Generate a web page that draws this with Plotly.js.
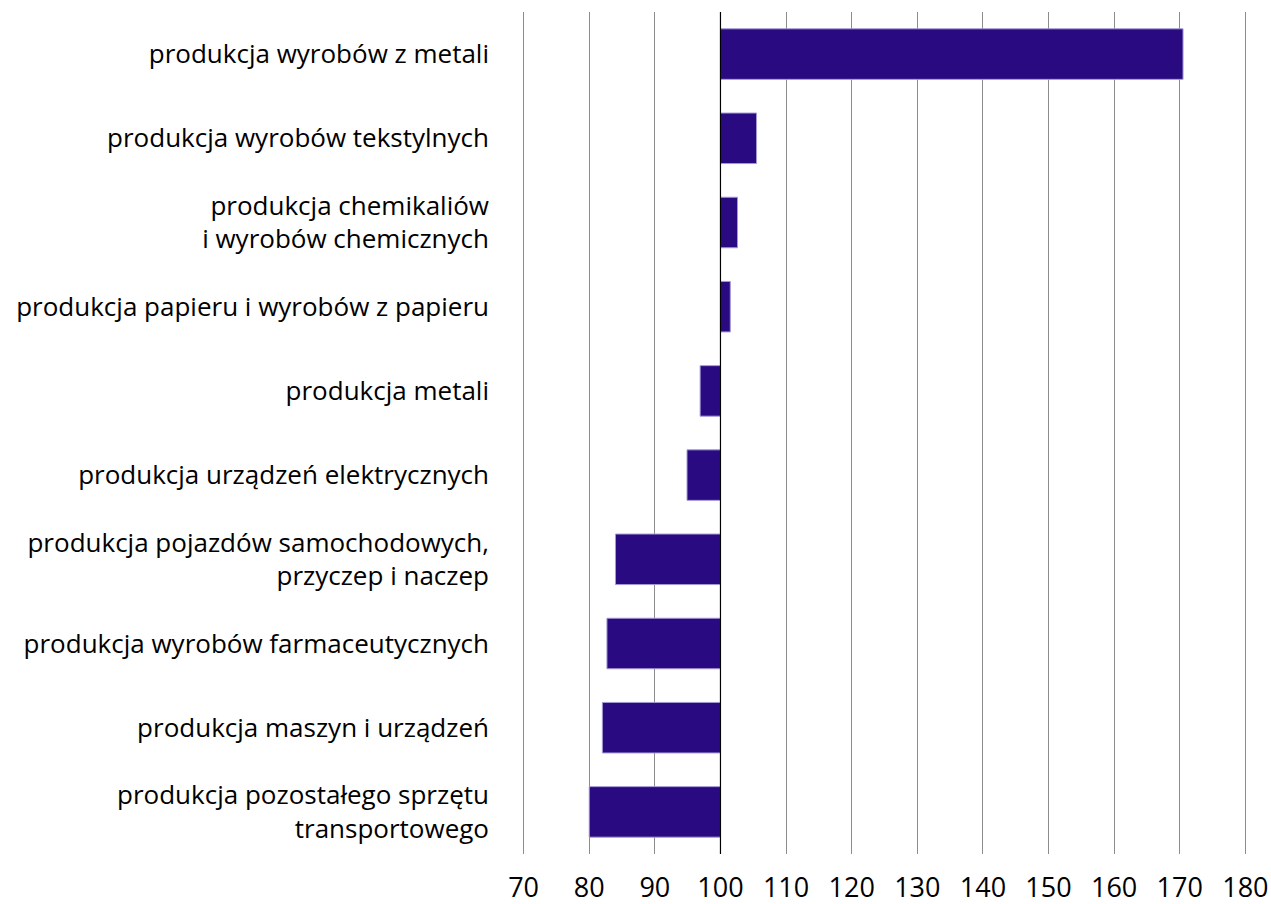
<!DOCTYPE html>
<html>
<head>
<meta charset="utf-8">
<script src="https://cdn.plot.ly/plotly-3.0.1.min.js"></script>
<style>
  html, body { margin:0; padding:0; background:#fff; }
  #chart { width:1271px; height:904px; }
</style>
</head>
<body>
<div id="chart"></div>
<script>
const categories = [
  'produkcja wyrobów z metali',
  'produkcja wyrobów tekstylnych',
  'produkcja chemikaliów<br>i wyrobów chemicznych',
  'produkcja papieru i wyrobów z papieru',
  'produkcja metali',
  'produkcja urządzeń elektrycznych',
  'produkcja pojazdów samochodowych,<br>przyczep i naczep',
  'produkcja wyrobów farmaceutycznych',
  'produkcja maszyn i urządzeń',
  'produkcja pozostałego sprzętu<br>transportowego'
];
const values = [170.5, 105.5, 102.6, 101.5, 96.9, 94.9, 84.0, 82.7, 82.0, 80.0];
const baseline = 100;
const tickVals = [70, 80, 90, 100, 110, 120, 130, 140, 150, 160, 170, 180];

const font = '"Open Sans", "Noto Sans", sans-serif';

Plotly.newPlot('chart', [{
  type: 'bar',
  orientation: 'h',
  y: categories,
  x: values.map(v => v - baseline),
  base: baseline,
  width: 0.6,
  marker: { color: '#2a0a80', line: { color: '#a59ad6', width: 1 } },
  hoverinfo: 'skip'
}], {
  width: 1271,
  height: 904,
  margin: { l: 521, r: 23, t: 12, b: 50 },
  paper_bgcolor: '#fff',
  plot_bgcolor: '#fff',
  showlegend: false,
  font: { family: font, color: '#000' },
  xaxis: {
    range: [69.6, 180.4],
    tickvals: tickVals,
    ticktext: tickVals.map(String),
    showgrid: true,
    gridcolor: '#8c8c8c',
    gridwidth: 1,
    zeroline: false,
    showline: false,
    ticks: '',
    ticklabelstandoff: 15,
    tickfont: { family: font, size: 27, color: '#000' },
    fixedrange: true
  },
  yaxis: {
    autorange: 'reversed',
    showgrid: false,
    zeroline: false,
    showline: false,
    ticks: '',
    ticklabelstandoff: 31,
    tickfont: { family: font, size: 26, color: '#000' },
    fixedrange: true
  },
  shapes: [
    { type: 'line', xref: 'x', yref: 'paper', x0: baseline, x1: baseline, y0: 0, y1: 1,
      line: { color: '#000', width: 1.2 }, layer: 'above' }
  ]
}, { displayModeBar: false, staticPlot: true });
</script>
</body>
</html>
